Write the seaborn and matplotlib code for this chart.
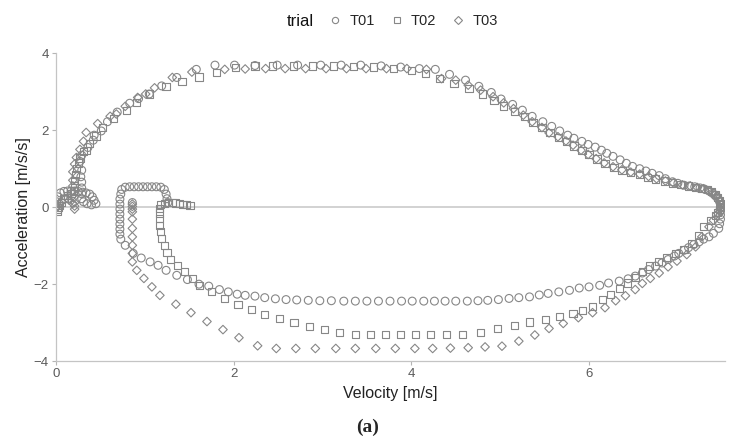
import numpy as np
import pandas as pd
import matplotlib.pyplot as plt
from matplotlib.lines import Line2D
import seaborn as sns

# (velocity [m/s], acceleration [m/s/s]), per trial
t01_points = [
    (0.00, 0.00), (0.01, 0.14), (0.02, 0.27), (0.05, 0.37), (0.09, 0.41), (0.13, 0.42),
    (0.17, 0.42), (0.21, 0.42), (0.25, 0.41), (0.30, 0.39), (0.34, 0.37), (0.38, 0.34),
    (0.41, 0.27), (0.43, 0.18), (0.45, 0.09), (0.40, 0.06), (0.35, 0.09), (0.31, 0.14),
    (0.29, 0.22), (0.29, 0.35), (0.29, 0.50), (0.29, 0.65), (0.28, 0.79), (0.29, 0.96),
    (0.27, 1.19), (0.29, 1.35), (0.36, 1.55), (0.42, 1.74), (0.43, 1.87), (0.51, 1.98),
    (0.58, 2.22), (0.69, 2.47), (0.83, 2.70), (0.93, 2.82), (1.05, 2.94), (1.19, 3.15),
    (1.36, 3.37), (1.58, 3.58), (1.79, 3.69), (2.01, 3.69), (2.24, 3.68), (2.49, 3.69),
    (2.72, 3.69), (2.98, 3.69), (3.21, 3.69), (3.43, 3.69), (3.66, 3.67), (3.88, 3.64),
    (4.09, 3.60), (4.27, 3.58), (4.43, 3.45), (4.61, 3.30), (4.76, 3.14), (4.90, 2.98),
    (5.01, 2.81), (5.14, 2.67), (5.25, 2.52), (5.36, 2.36), (5.48, 2.22), (5.58, 2.10),
    (5.67, 1.98), (5.76, 1.87), (5.83, 1.79), (5.92, 1.71), (5.99, 1.63), (6.07, 1.56),
    (6.14, 1.48), (6.20, 1.40), (6.27, 1.32), (6.35, 1.23), (6.42, 1.14), (6.49, 1.06),
    (6.57, 1.00), (6.64, 0.94), (6.71, 0.88), (6.79, 0.82), (6.86, 0.74), (6.94, 0.66),
    (7.00, 0.62), (7.07, 0.57), (7.13, 0.55), (7.19, 0.53), (7.25, 0.50), (7.30, 0.47),
    (7.35, 0.42), (7.39, 0.36), (7.42, 0.30), (7.45, 0.22), (7.47, 0.14), (7.48, 0.06),
    (7.48, -0.02), (7.48, -0.10), (7.48, -0.20), (7.48, -0.31), (7.47, -0.43), (7.46, -0.55),
    (7.40, -0.68), (7.35, -0.77), (7.29, -0.83), (7.24, -0.90), (7.18, -0.97), (7.12, -1.05),
    (7.07, -1.12), (7.01, -1.20), (6.96, -1.27), (6.89, -1.36), (6.82, -1.45), (6.75, -1.53),
    (6.67, -1.62), (6.60, -1.71), (6.52, -1.79), (6.44, -1.86), (6.34, -1.92), (6.22, -1.97),
    (6.12, -2.03), (6.00, -2.07), (5.89, -2.10), (5.78, -2.16), (5.66, -2.20), (5.54, -2.24),
    (5.44, -2.28), (5.33, -2.33), (5.21, -2.35), (5.10, -2.37), (4.98, -2.40), (4.86, -2.42),
    (4.75, -2.43), (4.63, -2.44), (4.50, -2.44), (4.38, -2.44), (4.26, -2.44), (4.14, -2.44),
    (4.01, -2.44), (3.89, -2.44), (3.76, -2.44), (3.63, -2.44), (3.50, -2.44), (3.37, -2.44),
    (3.24, -2.44), (3.10, -2.43), (2.97, -2.43), (2.84, -2.42), (2.71, -2.41), (2.59, -2.40),
    (2.47, -2.38), (2.35, -2.35), (2.24, -2.31), (2.13, -2.29), (2.04, -2.26), (1.94, -2.20),
    (1.84, -2.14), (1.72, -2.05), (1.61, -2.00), (1.48, -1.88), (1.36, -1.77), (1.24, -1.64),
    (1.15, -1.51), (1.06, -1.42), (0.96, -1.32), (0.87, -1.20), (0.78, -0.99), (0.73, -0.83),
    (0.72, -0.70), (0.72, -0.57), (0.72, -0.44), (0.72, -0.31), (0.72, -0.18), (0.72, -0.05),
    (0.72, 0.08), (0.72, 0.21), (0.73, 0.34), (0.74, 0.46), (0.78, 0.52), (0.83, 0.53),
    (0.88, 0.53), (0.93, 0.53), (0.98, 0.53), (1.03, 0.53), (1.08, 0.53), (1.13, 0.53),
    (1.18, 0.52), (1.22, 0.46), (1.24, 0.34), (1.25, 0.22), (1.26, 0.12), (0.86, 0.12),
]

t02_points = [
    (0.02, -0.10), (0.02, -0.05), (0.03, 0.00), (0.04, 0.05), (0.06, 0.12), (0.09, 0.22),
    (0.13, 0.30), (0.17, 0.35), (0.20, 0.42), (0.21, 0.55), (0.21, 0.70), (0.22, 0.85),
    (0.23, 1.00), (0.25, 1.15), (0.27, 1.28), (0.31, 1.45), (0.34, 1.48), (0.38, 1.65),
    (0.45, 1.85), (0.52, 2.07), (0.65, 2.30), (0.79, 2.52), (0.91, 2.72), (1.05, 2.94),
    (1.24, 3.14), (1.42, 3.27), (1.61, 3.38), (1.81, 3.50), (2.02, 3.62), (2.24, 3.67),
    (2.44, 3.67), (2.67, 3.67), (2.89, 3.67), (3.12, 3.67), (3.35, 3.66), (3.57, 3.64),
    (3.80, 3.60), (4.00, 3.55), (4.16, 3.47), (4.32, 3.35), (4.48, 3.21), (4.65, 3.08),
    (4.80, 2.94), (4.93, 2.78), (5.04, 2.63), (5.16, 2.49), (5.27, 2.35), (5.37, 2.20),
    (5.47, 2.06), (5.56, 1.93), (5.66, 1.82), (5.75, 1.70), (5.83, 1.59), (5.92, 1.47),
    (6.00, 1.36), (6.09, 1.25), (6.18, 1.14), (6.28, 1.04), (6.37, 0.96), (6.47, 0.90),
    (6.57, 0.84), (6.66, 0.78), (6.75, 0.73), (6.85, 0.68), (6.94, 0.63), (7.03, 0.59),
    (7.12, 0.55), (7.20, 0.52), (7.27, 0.49), (7.33, 0.45), (7.38, 0.40), (7.42, 0.33),
    (7.45, 0.26), (7.47, 0.18), (7.48, 0.10), (7.48, 0.02), (7.47, -0.06), (7.45, -0.14),
    (7.42, -0.21), (7.37, -0.34), (7.29, -0.51), (7.23, -0.73), (7.16, -0.94), (7.07, -1.10),
    (6.97, -1.20), (6.87, -1.31), (6.78, -1.42), (6.68, -1.53), (6.60, -1.68), (6.52, -1.83),
    (6.43, -1.97), (6.34, -2.11), (6.24, -2.26), (6.15, -2.40), (6.04, -2.57), (5.93, -2.68),
    (5.82, -2.76), (5.67, -2.83), (5.51, -2.91), (5.33, -2.98), (5.16, -3.08), (4.97, -3.15),
    (4.78, -3.26), (4.58, -3.31), (4.40, -3.31), (4.22, -3.31), (4.05, -3.31), (3.88, -3.31),
    (3.71, -3.31), (3.54, -3.31), (3.37, -3.30), (3.19, -3.26), (3.02, -3.17), (2.85, -3.09),
    (2.68, -3.00), (2.52, -2.90), (2.35, -2.78), (2.20, -2.66), (2.05, -2.53), (1.90, -2.37),
    (1.75, -2.20), (1.62, -2.03), (1.54, -1.85), (1.45, -1.68), (1.37, -1.52), (1.29, -1.35),
    (1.25, -1.18), (1.22, -0.99), (1.19, -0.81), (1.18, -0.64), (1.17, -0.47), (1.17, -0.29),
    (1.17, -0.15), (1.17, -0.03), (1.18, 0.06), (1.22, 0.10), (1.27, 0.12), (1.31, 0.12),
    (1.35, 0.11), (1.39, 0.09), (1.43, 0.07), (1.47, 0.06), (1.51, 0.05),
]

t03_points = [
    (0.01, 0.00), (0.03, 0.08), (0.06, 0.15), (0.10, 0.20), (0.15, 0.18), (0.19, 0.10),
    (0.21, 0.03), (0.21, -0.05), (0.21, 0.12), (0.20, 0.25), (0.19, 0.40), (0.19, 0.55),
    (0.19, 0.70), (0.19, 0.92), (0.21, 1.12), (0.23, 1.29), (0.27, 1.50), (0.31, 1.71),
    (0.34, 1.94), (0.47, 2.17), (0.61, 2.36), (0.68, 2.42), (0.78, 2.62), (0.92, 2.85),
    (1.01, 2.94), (1.11, 3.10), (1.31, 3.37), (1.53, 3.51), (1.90, 3.58), (2.13, 3.59),
    (2.36, 3.60), (2.58, 3.60), (2.81, 3.60), (3.04, 3.60), (3.27, 3.60), (3.49, 3.60),
    (3.72, 3.60), (3.95, 3.60), (4.17, 3.58), (4.34, 3.34), (4.50, 3.30), (4.64, 3.17),
    (4.78, 3.04), (4.92, 2.87), (5.04, 2.71), (5.15, 2.56), (5.26, 2.39), (5.36, 2.22),
    (5.47, 2.07), (5.55, 1.93), (5.65, 1.83), (5.74, 1.72), (5.82, 1.61), (5.91, 1.48),
    (5.99, 1.37), (6.08, 1.26), (6.17, 1.15), (6.27, 1.05), (6.37, 0.97), (6.47, 0.91),
    (6.57, 0.86), (6.67, 0.80), (6.76, 0.74), (6.86, 0.68), (6.95, 0.63), (7.05, 0.58),
    (7.14, 0.55), (7.22, 0.51), (7.29, 0.48), (7.35, 0.43), (7.40, 0.37), (7.44, 0.30),
    (7.46, 0.22), (7.48, 0.14), (7.49, 0.05), (7.48, -0.03), (7.45, -0.16), (7.40, -0.34),
    (7.35, -0.51), (7.27, -0.77), (7.20, -1.03), (7.10, -1.23), (6.99, -1.40), (6.89, -1.55),
    (6.79, -1.71), (6.69, -1.85), (6.60, -1.98), (6.52, -2.14), (6.41, -2.30), (6.30, -2.43),
    (6.18, -2.61), (6.04, -2.74), (5.88, -2.87), (5.71, -3.02), (5.55, -3.15), (5.39, -3.32),
    (5.21, -3.48), (5.02, -3.61), (4.83, -3.63), (4.64, -3.65), (4.44, -3.66), (4.24, -3.67),
    (4.04, -3.67), (3.82, -3.67), (3.60, -3.67), (3.37, -3.67), (3.15, -3.67), (2.92, -3.67),
    (2.70, -3.67), (2.48, -3.67), (2.27, -3.60), (2.06, -3.39), (1.88, -3.18), (1.70, -2.97),
    (1.52, -2.74), (1.35, -2.52), (1.17, -2.29), (1.08, -2.07), (0.99, -1.85), (0.91, -1.64),
    (0.86, -1.42), (0.86, -1.20), (0.86, -0.99), (0.86, -0.77), (0.86, -0.55), (0.86, -0.31),
    (0.86, -0.12), (0.86, -0.05), (0.86, 0.02), (0.86, 0.08),
]

trial_names = ["T01", "T02", "T03"]
trial_markers = ["o", "s", "D"]
marker_sizes = [32, 27, 19]

frames = []
for name, pts in zip(trial_names, [t01_points, t02_points, t03_points]):
    arr = np.array(pts)
    frames.append(pd.DataFrame({"velocity": arr[:, 0], "acceleration": arr[:, 1], "trial": name}))
df = pd.concat(frames, ignore_index=True)

sns.set_theme(style="white")
plt.rcParams["font.family"] = ["Liberation Sans", "DejaVu Sans"]

marker_gray = "#878787"
fig = plt.figure(figsize=(7.36, 4.47), dpi=100)
ax = fig.add_axes([0.076, 0.192, 0.909, 0.689])

ax.axhline(0, color="#cfcfcf", lw=1.3, zorder=0)
for name, mk, sz in zip(trial_names, trial_markers, marker_sizes):
    sns.scatterplot(data=df[df["trial"] == name], x="velocity", y="acceleration",
                    marker=mk, s=sz, facecolor="none",
                    edgecolor=marker_gray, linewidth=0.8, legend=False, ax=ax)

ax.set_xlim(0, 7.53)
ax.set_ylim(-4, 4)
ax.set_xticks([0, 2, 4, 6])
ax.set_yticks([-4, -2, 0, 2, 4])
ax.tick_params(bottom=True, left=True, length=3, width=0.8, color="#b5b5b5",
               labelcolor="#5a5a5a", labelsize=9.5, pad=2)
for side in ["top", "right"]:
    ax.spines[side].set_visible(False)
for side in ["left", "bottom"]:
    ax.spines[side].set_color("#c4c4c4")
    ax.spines[side].set_linewidth(0.9)

ax.set_xlabel("Velocity [m/s]", fontsize=11.5, color="#222222", labelpad=4)
ax.set_ylabel("Acceleration [m/s/s]", fontsize=11.5, color="#222222", labelpad=2)

# legend across the top
handles = [Line2D([], [], linestyle="none", marker=mk, markersize=4.5 if mk != "D" else 3.8,
                  markerfacecolor="none", markeredgecolor=marker_gray, markeredgewidth=0.8)
           for mk in trial_markers]
fig.legend(handles, trial_names, loc="center left", bbox_to_anchor=(0.427, 0.953),
           ncol=3, frameon=False, fontsize=10.5, handletextpad=0.5, columnspacing=1.0,
           handlelength=1.0)
fig.text(0.408, 0.953, "trial", ha="center", va="center", fontsize=12, color="#111111")

fig.text(0.5, 0.045, "(a)", ha="center", va="center", fontsize=14, fontweight="bold",
         family=["Liberation Serif", "DejaVu Serif"])

fig.savefig("out.png", dpi=100)
